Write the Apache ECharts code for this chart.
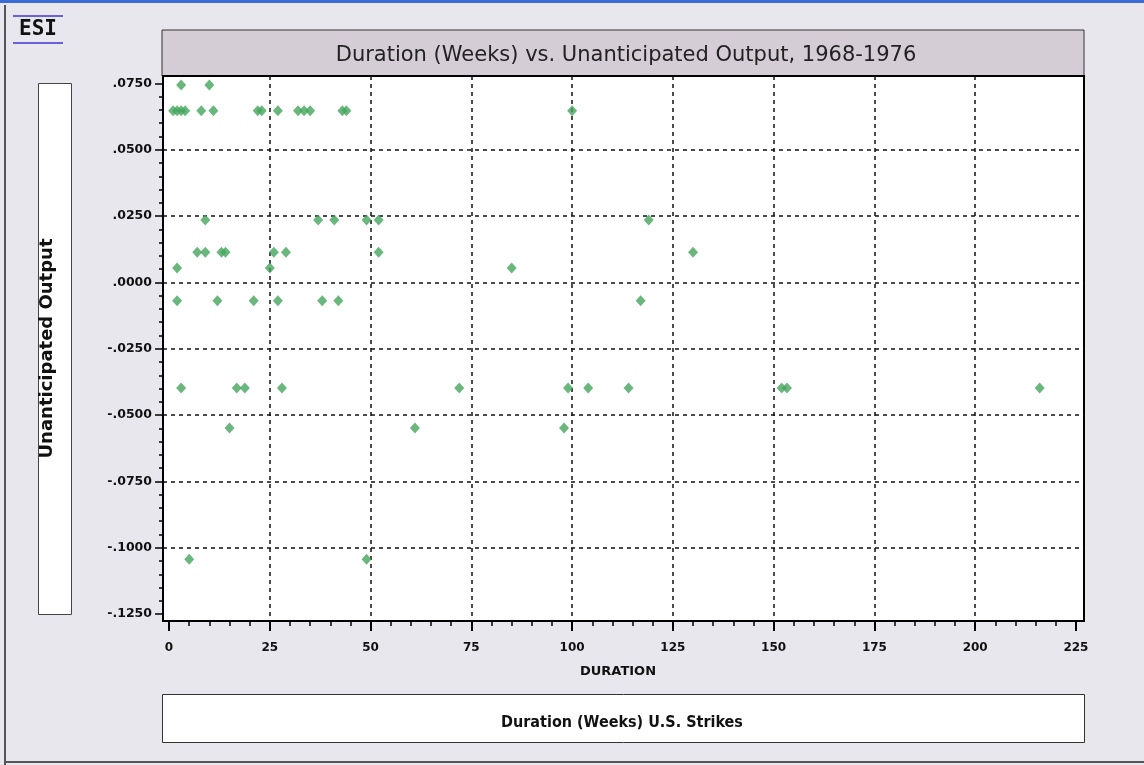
<!DOCTYPE html>
<html>
<head>
<meta charset="utf-8">
<script src="https://cdn.jsdelivr.net/npm/echarts@6/dist/echarts.min.js"></script>
<style>
html, body { margin: 0; padding: 0; background: #e9e7ee; }
#chart { width: 1144px; height: 765px; }
</style>
</head>
<body>
<div id="chart"></div>
<script>
// durations (weeks) and unanticipated output
const duration = [
    3, 10,
    1, 2, 3, 4, 8, 11, 22, 23, 27, 32, 33.5, 35, 43, 44, 100,
    9, 37, 41, 49, 52, 119,
    7, 9, 13, 14, 26, 29, 52, 130,
    2, 25, 85,
    2, 12, 21, 27, 38, 42, 117,
    3, 16.8, 18.8, 28, 72, 99, 104, 114, 152, 153.3, 216,
    15, 61, 98,
    5, 49
]
const output = [
    0.0744, 0.0744,
    0.0647, 0.0647, 0.0647, 0.0647, 0.0647, 0.0647, 0.0647, 0.0647, 0.0647, 0.0647, 0.0647, 0.0647, 0.0647, 0.0647, 0.0647,
    0.0235, 0.0235, 0.0235, 0.0235, 0.0235, 0.0235,
    0.0114, 0.0114, 0.0114, 0.0114, 0.0114, 0.0114, 0.0114, 0.0114,
    0.0054, 0.0054, 0.0054,
    -0.0069, -0.0069, -0.0069, -0.0069, -0.0069, -0.0069, -0.0069,
    -0.0398, -0.0398, -0.0398, -0.0398, -0.0398, -0.0398, -0.0398, -0.0398, -0.0398, -0.0398, -0.0398,
    -0.0549, -0.0549, -0.0549,
    -0.1043, -0.1043
]
const xTicks = [0, 25, 50, 75, 100, 125, 150, 175, 200, 225]
const yTicks = [-0.125, -0.1, -0.075, -0.05, -0.025, 0, 0.025, 0.05, 0.075]

const titleText = 'Duration (Weeks) vs. Unanticipated Output, 1968-1976'
const xName = 'DURATION'
const yName = 'Unanticipated Output'
const footText = 'Duration (Weeks) U.S. Strikes'

// 5 subdivisions between labelled ticks
function minors(ticks) {
    let out = []
    for (let i = 0; i < ticks.length - 1; i++) {
        let step = (ticks[i + 1] - ticks[i]) / 5
        for (let k = 1; k < 5; k++) out.push(+(ticks[i] + step * k).toFixed(6))
    }
    return out
}

let points = duration.map((d, i) => [d, output[i]])

const xMin = -1.5, xMax = 227
const yMin = -0.1276, yMax = 0.0778
const boldFont = { fontFamily: 'DejaVu Sans', fontWeight: 'bold', color: '#111' }
const dashed = { color: '#111', type: [4, 4], width: 1.5 }

// extra axis on the same extent that only draws ticks or grid lines
function helperAxis(min, max, pos, ticks, tickLen, grid) {
    return {
        type: 'value', min: min, max: max, position: pos,
        axisLine: { show: false, onZero: false },
        axisTick: { show: !grid, customValues: ticks, length: tickLen, lineStyle: { color: '#000', width: 1.5 } },
        axisLabel: { show: false },
        splitLine: { show: grid, lineStyle: dashed }
    }
}

let option = {
    backgroundColor: '#e9e7ee',
    animation: false,
    title: [
        {
            text: titleText,
            left: 621, top: 40, textAlign: 'center',
            textStyle: { fontFamily: 'DejaVu Sans', fontWeight: 'normal', fontSize: 21, color: '#222' }
        },
        {
            text: footText,
            left: 617, top: 710, textAlign: 'center',
            textStyle: { fontFamily: "'Liberation Sans Narrow', 'DejaVu Sans Condensed'", fontWeight: 'bold', fontSize: 16, color: '#111' }
        }
    ],
    graphic: [
        // window chrome
        { type: 'rect', shape: { x: 0, y: 0, width: 1144, height: 3 }, style: { fill: '#3b6bd6' } },
        { type: 'rect', shape: { x: 4, y: 5, width: 2, height: 760 }, style: { fill: '#555' } },
        { type: 'rect', shape: { x: 4, y: 761, width: 1140, height: 2 }, style: { fill: '#555' } },
        // ESI logo
        { type: 'rect', shape: { x: 13, y: 15, width: 50, height: 2 }, style: { fill: '#6a5fe0' } },
        { type: 'rect', shape: { x: 13, y: 42, width: 50, height: 2 }, style: { fill: '#6a5fe0' } },
        { type: 'text', x: 38, y: 30, style: { text: 'ESI', fill: '#111', font: 'bold 21px "DejaVu Sans Mono"', align: 'center', verticalAlign: 'middle' } },
        // title box
        { type: 'rect', z: -1, shape: { x: 162, y: 30, width: 922, height: 46 }, style: { fill: '#d5cdd5', stroke: '#333', lineWidth: 1 } },
        // y name box
        { type: 'rect', z: -1, shape: { x: 38.5, y: 83.5, width: 33, height: 531 }, style: { fill: '#fff', stroke: '#444', lineWidth: 1 } },
        // footer box
        { type: 'rect', z: -1, shape: { x: 162.5, y: 694.5, width: 922, height: 48 }, style: { fill: '#fff', stroke: '#333', lineWidth: 1 } }
    ],
    grid: {
        left: 163, right: 60, top: 76, bottom: 144,
        show: true, backgroundColor: '#fff', borderColor: '#000', borderWidth: 2
    },
    xAxis: [
        {
            type: 'value', min: xMin, max: xMax, position: 'bottom',
            name: xName, nameLocation: 'middle', nameGap: 44,
            nameTextStyle: Object.assign({ fontSize: 13, padding: [0, 11, 0, 0] }, boldFont),
            axisLine: { show: true, onZero: false, lineStyle: { color: '#000', width: 2 } },
            axisTick: { show: true, customValues: xTicks, length: 10, lineStyle: { color: '#000', width: 2 } },
            axisLabel: { customValues: xTicks, margin: 21, fontSize: 12, ...boldFont },
            splitLine: { show: false }
        },
        helperAxis(xMin, xMax, 'bottom', minors(xTicks), 5, false),
        helperAxis(xMin, xMax, 'bottom', xTicks.slice(1, -1), 0, true)
    ],
    yAxis: [
        {
            type: 'value', min: yMin, max: yMax, position: 'left',
            name: yName, nameLocation: 'middle', nameGap: 107, nameRotate: 90,
            nameTextStyle: Object.assign({ fontSize: 18 }, boldFont),
            axisLine: { show: true, onZero: false, lineStyle: { color: '#000', width: 2 } },
            axisTick: { show: true, customValues: yTicks, length: 8, lineStyle: { color: '#000', width: 1.5 } },
            axisLabel: {
                customValues: yTicks, margin: 11, fontSize: 12.5, ...boldFont,
                formatter: v => v.toFixed(4).replace('0.', '.')
            },
            splitLine: { show: false }
        },
        helperAxis(yMin, yMax, 'left', minors(yTicks), 4, false),
        helperAxis(yMin, yMax, 'left', yTicks.slice(1, -1), 0, true)
    ],
    series: [
        {
            type: 'scatter',
            data: points,
            symbol: 'diamond',
            symbolSize: [10, 11],
            itemStyle: { color: '#45a55e' }
        }
    ]
}

let myChart = echarts.init(document.getElementById('chart'))
myChart.setOption(option)
</script>
</body>
</html>
